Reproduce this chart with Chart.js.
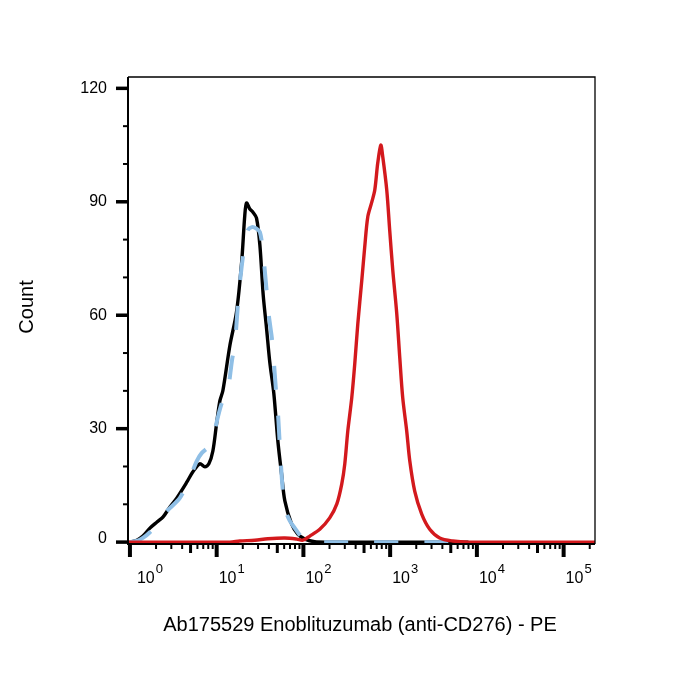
<!DOCTYPE html>
<html>
<head>
<meta charset="utf-8">
<script src="https://cdn.jsdelivr.net/npm/chart.js@4.4.1/dist/chart.umd.min.js"></script>
<style>
  html, body { margin: 0; padding: 0; background: #fff; }
</style>
</head>
<body>
<canvas id="myChart" width="700" height="700"></canvas>
<script>
// fluorescence intensity (x) and count (y)
var black_x = [1.0, 1.20, 1.41, 1.70, 2.05, 2.40, 2.89, 3.48, 4.54, 5.32, 6.40, 7.31, 8.13, 9.04, 9.97, 10.9, 11.8, 14.2, 16.9, 19.4, 21.1, 22.1, 24.1, 26.1, 28.8, 31.5, 34.4, 37.6, 41.0, 45.6, 50.7, 56.0, 61.1, 73.0, 86.1, 104, 135, 201, 8000];
var black_y = [0, 0.5, 1.6, 3.7, 5.3, 6.6, 9.3, 11.7, 15.9, 18.6, 20.7, 19.9, 20.7, 24.1, 31.3, 37.4, 40.1, 52, 60.7, 74, 86.5, 89.7, 88.1, 87.3, 85.7, 78.5, 65.3, 56.5, 47.5, 39.3, 26.8, 18, 10.9, 4.8, 2.1, 0.8, 0.1, 0, 0];

var blue_x = [1.0, 1.20, 1.41, 1.70, 2.05, 2.40, 2.89, 3.77, 4.91, 5.91, 6.75, 7.92, 9.04, 9.79, 11.5, 12.4, 13.5, 15.0, 16.2, 18.0, 19.5, 21.1, 22.9, 25.5, 28.3, 31.5, 34.0, 37.6, 39.9, 43.6, 48.1, 50.7, 53.5, 57.9, 62.7, 69.7, 79.6, 95.9, 119, 155, 8000];
var blue_y = [0, 0.3, 1.1, 2.6, 4.8, 7.2, 9.0, 11.7, 17, 21.5, 23.6, 25, 26.8, 30.8, 36.9, 37.4, 40.1, 48, 52.5, 65.8, 73.2, 79, 82.5, 83.3, 83, 82, 77.2, 66.6, 60, 53.3, 40.6, 34.7, 25.5, 13.5, 8.2, 5.6, 3.7, 1.3, 0.3, 0, 0];

var red_x = [0.95, 14.2, 18.5, 27.5, 38.9, 61.1, 84, 98.4, 118.6, 154.5, 201, 243, 277, 300, 325, 361, 391, 424, 471, 509, 552, 614, 665, 720, 780, 822, 914, 988, 1072, 1191, 1291, 1396, 1552, 1683, 1919, 2312, 2858, 3724, 5260, 8000, 230000];
var red_y = [0, 0, 0.3, 0.5, 0.9, 1.1, 0.8, 0.5, 1.6, 3.4, 6.4, 10.1, 15.4, 20.7, 29.4, 38.2, 47.2, 57.8, 69.2, 78, 86, 89.9, 93.1, 100.3, 105, 101.9, 93.1, 82.5, 71.9, 60.5, 48.8, 38.2, 29.4, 21.5, 13.5, 7.4, 3.4, 1.1, 0.3, 0, 0];

var y_ticks = [0, 30, 60, 90, 120];
var x_decades = [0, 1, 2, 3, 4, 5];
var x_title = 'Ab175529 Enoblituzumab (anti-CD276) - PE';
var y_title = 'Count';

function pts(xs, ys) {
  return xs.map(function (x, i) { return {x: x, y: ys[i]}; });
}

var FONT = "'Liberation Sans', Arial, sans-serif";

// frame, tick marks and labels drawn from the chart's own scales
var axesPlugin = {
  id: 'flowAxes',
  afterDraw: function (chart) {
    var c = chart.ctx, a = chart.chartArea;
    var xs = chart.scales.x, ys = chart.scales.y;
    c.save();
    c.strokeStyle = '#000';
    c.fillStyle = '#000';

    // box
    c.lineWidth = 1.3;
    c.beginPath();
    c.moveTo(a.left, a.top); c.lineTo(a.right, a.top); c.lineTo(a.right, a.bottom);
    c.stroke();
    c.lineWidth = 2;
    c.beginPath();
    c.moveTo(a.left, a.top); c.lineTo(a.left, a.bottom); c.lineTo(a.right, a.bottom);
    c.stroke();

    // y ticks
    for (var v = 0; v <= 120; v += 10) {
      var py = ys.getPixelForValue(v);
      var major = y_ticks.indexOf(v) >= 0;
      c.lineWidth = major ? 3.5 : 2;
      c.beginPath();
      c.moveTo(a.left - (major ? 12 : 5), py);
      c.lineTo(a.left, py);
      c.stroke();
    }
    c.font = '16px ' + FONT;
    c.textAlign = 'right';
    c.textBaseline = 'middle';
    y_ticks.forEach(function (t) {
      var py = ys.getPixelForValue(t);
      c.fillText(String(t), a.left - 21, t === 0 ? py - 4 : py);
    });

    // x ticks
    x_decades.forEach(function (d) {
      for (var m = 1; m <= 9; m++) {
        var val = m * Math.pow(10, d);
        if (val < xs.min || val > xs.max) continue;
        var px = xs.getPixelForValue(val);
        var len = m === 1 ? 13 : (m === 5 ? 9 : 5);
        c.lineWidth = m === 1 ? 4 : (m === 5 ? 3 : 2);
        c.beginPath();
        c.moveTo(px, a.bottom);
        c.lineTo(px, a.bottom + len);
        c.stroke();
      }
    });

    // x labels 10^d
    c.textAlign = 'left';
    c.textBaseline = 'alphabetic';
    x_decades.forEach(function (d) {
      var px = xs.getPixelForValue(Math.pow(10, d)) + (d === 0 ? 7 : 2);
      c.font = '16px ' + FONT;
      c.fillText('10', px, 583);
      var w = c.measureText('10').width;
      c.font = '13px ' + FONT;
      c.fillText(String(d), px + w + 1, 573);
    });

    // titles
    c.font = '20px ' + FONT;
    c.textAlign = 'center';
    c.fillText(x_title, 360, 631);
    c.translate(33, 307);
    c.rotate(-Math.PI / 2);
    c.fillText(y_title, 0, 0);
    c.restore();
  }
};

var ctx = document.getElementById('myChart');

const cfg = {
  type: 'scatter',
  data: {
    datasets: [
      {label: 'isotype', data: pts(black_x, black_y), borderColor: '#000000', borderWidth: 3.4, order: 3},
      {label: 'unstained', data: pts(blue_x, blue_y), borderColor: '#8fbfe6', borderWidth: 4, borderDash: [24, 26], order: 2},
      {label: 'Enoblituzumab', data: pts(red_x, red_y), borderColor: '#d3191d', borderWidth: 3.4, order: 1}
    ]
  },
  options: {
    responsive: false,
    animation: false,
    showLine: true,
    layout: {padding: {left: 128, right: 105, top: 77, bottom: 156}},
    elements: {
      point: {radius: 0},
      line: {tension: 0.3, borderJoinStyle: 'round', borderCapStyle: 'butt'}
    },
    plugins: {legend: {display: false}, tooltip: {enabled: false}},
    scales: {
      x: {type: 'logarithmic', min: 0.95, max: 230000, display: false},
      y: {type: 'linear', min: -0.5, max: 123, display: false}
    }
  },
  plugins: [axesPlugin]
};

new Chart(ctx, cfg);
</script>
</body>
</html>
